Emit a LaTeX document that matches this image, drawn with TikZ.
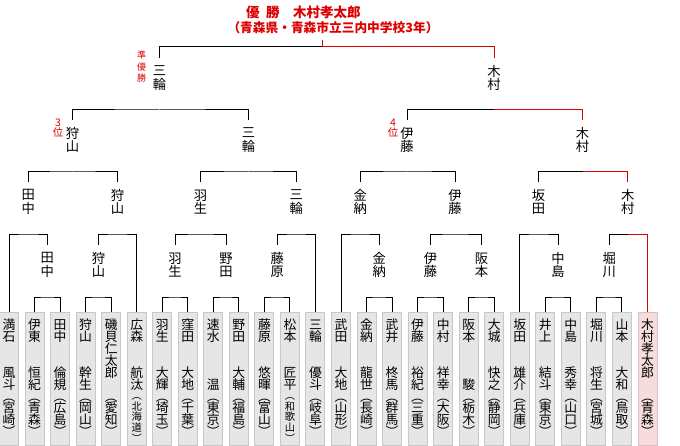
\documentclass[tikz,border=0pt]{standalone}
\usepackage{fontspec}
\newfontfamily\jp{Noto Sans CJK JP}
\usetikzlibrary{calc}
\definecolor{winred}{RGB}{221,0,0}
\definecolor{boxfill}{RGB}{230,230,230}
\definecolor{boxline}{RGB}{200,200,200}
\definecolor{champfill}{RGB}{246,220,220}
\definecolor{champline}{RGB}{222,190,190}
\newcommand\boxfont{\jp\fontsize{12.8}{11.9}\selectfont\lineskiplimit=-20pt\relax}
\newcommand\labfont{\jp\fontsize{13.3}{13.5}\selectfont\lineskiplimit=-20pt\relax}
\newcommand\junfont{\jp\fontsize{9}{11.5}\selectfont\lineskiplimit=-20pt\relax}
\newcommand\rankfont{\jp\fontsize{10.5}{10}\selectfont\lineskiplimit=-20pt\relax}
\newcommand\titlefont{\jp\bfseries\fontsize{13.5}{13.5}\selectfont}
\newcommand\subfont{\jp\bfseries\fontsize{12.7}{12.7}\selectfont}
\newcommand\gp{\mbox{}}
\newcommand\pa{︵}
\newcommand\pb{︶}
\newcommand\sm[1]{{\fontsize{10.3}{10.3}\selectfont#1}}
\newcommand\st{\rule{0pt}{11pt}}
% 2-char family, 2-char given, 2-char prefecture
\newcommand\nameA[6]{\st#1\\#2\\\gp\\\gp\\#3\\#4\\\pa\\#5\\#6\\\pb}
% 2-char family, 1-char given
\newcommand\nameB[5]{\st#1\\#2\\\gp\\\gp\\\gp\\#3\\\pa\\#4\\#5\\\pb}
% 5-char full name
\newcommand\nameC[7]{\st#1\\#2\\#3\\#4\\#5\\\gp\\\pa\\#6\\#7\\\pb}
% 2-char family, 2-char given, 3-char prefecture (slightly compressed)
\newcommand\nameD[7]{\st#1\\#2\\\gp\\\gp\\#3\\#4\\[-1.5pt]\sm{\pa}\\[-1.2pt]\sm{#5}\\[-1.2pt]\sm{#6}\\[-1.2pt]\sm{#7}\\[-1.2pt]\sm{\pb}}
\tikzset{
  pbox/.style={draw=boxline, fill=boxfill, minimum width=19pt, minimum height=132pt, inner sep=0pt, line width=1pt},
  cbox/.style={pbox, draw=champline, fill=champfill},
  ptext/.style={anchor=north, inner sep=0pt, align=center, font=\boxfont},
  lab/.style={inner sep=0pt, minimum height=40pt, minimum width=14pt, align=center, font=\labfont},
  bar/.style={line width=1pt, black},
  wbar/.style={line width=1pt, winred},
  rank/.style={inner sep=0pt, align=center, text=winred, font=\rankfont},
}
\begin{document}
\begin{tikzpicture}[x=1pt, y=-1pt]
\fill[white] (0,0) rectangle (680,446);
\useasboundingbox (0,0) rectangle (680,446);

% ---------- player boxes ----------
\foreach \i/\x in {1/9,2/34.54,3/60.08,4/85.62,5/111.16,6/136.7,7/162.24,8/187.78,9/213.32,10/238.86,11/264.4,12/289.94,13/315.48,14/341.02,15/366.56,16/392.1,17/417.64,18/443.18,19/468.72,20/494.26,21/519.8,22/545.34,23/570.88,24/596.42,25/621.96}
  \node[pbox] (p\i) at (\x,379) {};
\node[cbox] (p26) at (647.5,379) {};

\node[ptext] (t1)  at (p1.north)  [yshift=-5.9pt] {\nameA{満}{石}{風}{斗}{宮}{崎}};
\node[ptext] (t2)  at (p2.north)  [yshift=-5.9pt] {\nameA{伊}{東}{恒}{紀}{青}{森}};
\node[ptext] (t3)  at (p3.north)  [yshift=-5.9pt] {\nameA{田}{中}{倫}{規}{広}{島}};
\node[ptext] (t4)  at (p4.north)  [yshift=-5.9pt] {\nameA{狩}{山}{幹}{生}{岡}{山}};
\node[ptext] (t5)  at (p5.north)  [yshift=-5.9pt] {\nameC{磯}{貝}{仁}{太}{郎}{愛}{知}};
\node[ptext] (t6)  at (p6.north)  [yshift=-5.9pt] {\nameD{広}{森}{航}{汰}{北}{海}{道}};
\node[ptext] (t7)  at (p7.north)  [yshift=-5.9pt] {\nameA{羽}{生}{大}{輝}{埼}{玉}};
\node[ptext] (t8)  at (p8.north)  [yshift=-5.9pt] {\nameA{窪}{田}{大}{地}{千}{葉}};
\node[ptext] (t9)  at (p9.north)  [yshift=-5.9pt] {\nameB{速}{水}{温}{東}{京}};
\node[ptext] (t10) at (p10.north) [yshift=-5.9pt] {\nameA{野}{田}{大}{輔}{福}{島}};
\node[ptext] (t11) at (p11.north) [yshift=-5.9pt] {\nameA{藤}{原}{悠}{暉}{富}{山}};
\node[ptext] (t12) at (p12.north) [yshift=-5.9pt] {\nameD{松}{本}{匠}{平}{和}{歌}{山}};
\node[ptext] (t13) at (p13.north) [yshift=-5.9pt] {\nameA{三}{輪}{優}{斗}{岐}{阜}};
\node[ptext] (t14) at (p14.north) [yshift=-5.9pt] {\nameA{武}{田}{大}{地}{山}{形}};
\node[ptext] (t15) at (p15.north) [yshift=-5.9pt] {\nameA{金}{納}{龍}{世}{長}{崎}};
\node[ptext] (t16) at (p16.north) [yshift=-5.9pt] {\nameA{武}{井}{柊}{馬}{群}{馬}};
\node[ptext] (t17) at (p17.north) [yshift=-5.9pt] {\nameA{伊}{藤}{裕}{紀}{三}{重}};
\node[ptext] (t18) at (p18.north) [yshift=-5.9pt] {\nameA{中}{村}{祥}{幸}{大}{阪}};
\node[ptext] (t19) at (p19.north) [yshift=-5.9pt] {\nameB{阪}{本}{駿}{栃}{木}};
\node[ptext] (t20) at (p20.north) [yshift=-5.9pt] {\nameA{大}{城}{快}{之}{静}{岡}};
\node[ptext] (t21) at (p21.north) [yshift=-5.9pt] {\nameA{坂}{田}{雄}{介}{兵}{庫}};
\node[ptext] (t22) at (p22.north) [yshift=-5.9pt] {\nameA{井}{上}{結}{斗}{東}{京}};
\node[ptext] (t23) at (p23.north) [yshift=-5.9pt] {\nameA{中}{島}{秀}{幸}{山}{口}};
\node[ptext] (t24) at (p24.north) [yshift=-5.9pt] {\nameA{堀}{川}{将}{生}{宮}{城}};
\node[ptext] (t25) at (p25.north) [yshift=-5.9pt] {\nameA{山}{本}{大}{和}{鳥}{取}};
\node[ptext] (t26) at (p26.north) [yshift=-5.9pt] {\nameC{木}{村}{孝}{太}{郎}{青}{森}};

% ---------- round 1 winners ----------
\node[lab] (a1) at (47.3,265)  {田\\中};
\node[lab] (b1) at (98.4,265)  {狩\\山};
\node[lab] (c1) at (175,265)   {羽\\生};
\node[lab] (d1) at (226.1,265) {野\\田};
\node[lab] (e1) at (277.2,265) {藤\\原};
\node[lab] (f1) at (379.3,265) {金\\納};
\node[lab] (g1) at (430.4,265) {伊\\藤};
\node[lab] (h1) at (481.5,265) {阪\\本};
\node[lab] (i1) at (558.1,265) {中\\島};
\node[lab] (j1) at (609.2,265) {堀\\川};

\coordinate (m1a) at (47.3,298);
\coordinate (m1b) at (98.4,298);
\coordinate (m1c) at (175,298);
\coordinate (m1d) at (226.1,298);
\coordinate (m1e) at (277.2,298);
\coordinate (m1f) at (379.3,298);
\coordinate (m1g) at (430.4,298);
\coordinate (m1h) at (481.5,298);
\coordinate (m1i) at (558.1,298);
\coordinate (m1j) at (609.2,298);
\draw[bar] (p2.north)  |- (m1a) -| (p3.north);
\draw[bar] (p4.north)  |- (m1b) -| (p5.north);
\draw[bar] (p7.north)  |- (m1c) -| (p8.north);
\draw[bar] (p9.north)  |- (m1d) -| (p10.north);
\draw[bar] (p11.north) |- (m1e) -| (p12.north);
\draw[bar] (p15.north) |- (m1f) -| (p16.north);
\draw[bar] (p17.north) |- (m1g) -| (p18.north);
\draw[bar] (p19.north) |- (m1h) -| (p20.north);
\draw[bar] (p22.north) |- (m1i) -| (p23.north);
\draw[bar] (p24.north) |- (m1j) -| (p25.north);

% ---------- round 2 ----------
\node[lab] (a2) at (28.2,202)  {田\\中};
\node[lab] (b2) at (117.5,202) {狩\\山};
\node[lab] (c2) at (200.6,202) {羽\\生};
\node[lab] (d2) at (296.3,202) {三\\輪};
\node[lab] (e2) at (360.2,202) {金\\納};
\node[lab] (f2) at (455,202)   {伊\\藤};
\node[lab] (g2) at (538.5,202) {坂\\田};
\node[lab] (h2) at (627.8,202) {木\\村};

\coordinate (m2a) at (28.2,235);
\coordinate (m2b) at (117.5,235);
\coordinate (m2c) at (200.6,235);
\coordinate (m2d) at (296.3,235);
\coordinate (m2e) at (360.2,235);
\coordinate (m2f) at (455,235);
\coordinate (m2g) at (538.5,235);
\coordinate (m2h) at (627.8,235);
\draw[bar] (p1.north)  |- (m2a) -| (a1.north);
\draw[bar] (b1.north)  |- (m2b) -| (p6.north);
\draw[bar] (c1.north)  |- (m2c) -| (d1.north);
\draw[bar] (e1.north)  |- (m2d) -| (p13.north);
\draw[bar] (p14.north) |- (m2e) -| (f1.north);
\draw[bar] (g1.north)  |- (m2f) -| (h1.north);
\draw[bar] (p21.north) |- (m2g) -| (i1.north);
\draw[bar] (j1.north)  |- (m2h);
\draw[wbar] (m2h) -| (p26.north);

% ---------- round 3 ----------
\node[lab] (a3) at (72.5,140)  {狩\\山};
\node[lab] (b3) at (248.4,140) {三\\輪};
\node[lab] (c3) at (407,140)   {伊\\藤};
\node[lab] (d3) at (582.5,140) {木\\村};

\coordinate (m3a) at (72.5,172);
\coordinate (m3b) at (248.4,172);
\coordinate (m3c) at (407,172);
\coordinate (m3d) at (582.5,172);
\draw[bar] (a2.north) |- (m3a) -| (b2.north);
\draw[bar] (c2.north) |- (m3b) -| (d2.north);
\draw[bar] (e2.north) |- (m3c) -| (f2.north);
\draw[bar] (g2.north) |- (m3d);
\draw[wbar] (m3d) -| (h2.north);

% ---------- round 4 ----------
\node[lab] (a4) at (159.5,78) {三\\輪};
\node[lab] (b4) at (494,78)   {木\\村};

\coordinate (m4a) at (159.5,110);
\coordinate (m4b) at (494,110);
\draw[bar] (a3.north) |- (m4a) -| (b3.north);
\draw[bar] (c3.north) |- (m4b);
\draw[wbar] (m4b) -| (d3.north);

% ---------- final ----------
\coordinate (fin) at (322,47);
\coordinate (stemtop) at (322,40);
\draw[bar] (a4.north) |- (fin);
\draw[wbar] (fin) -| (b4.north);
\draw[wbar] (fin) -- (stemtop);

% ---------- champion title ----------
\node[anchor=base west, inner sep=0pt, text=winred, font=\titlefont] (title) at (246,17.6)
  {優\hspace{6.5pt}勝\hspace{13.5pt}木村孝太郎};
\node[anchor=base, inner sep=0pt, text=winred, font=\subfont] (sub) at (333,32.3)
  {（青森県・青森市立三内中学校3年）};

% ---------- rank marks ----------
\node[rank, font=\junfont] (jun) at (141.5,67) {準\\優\\勝};
\node[rank] (third) at (58,128) {3\\位};
\node[rank] (fourth) at (393,128) {4\\位};
\end{tikzpicture}
\end{document}
